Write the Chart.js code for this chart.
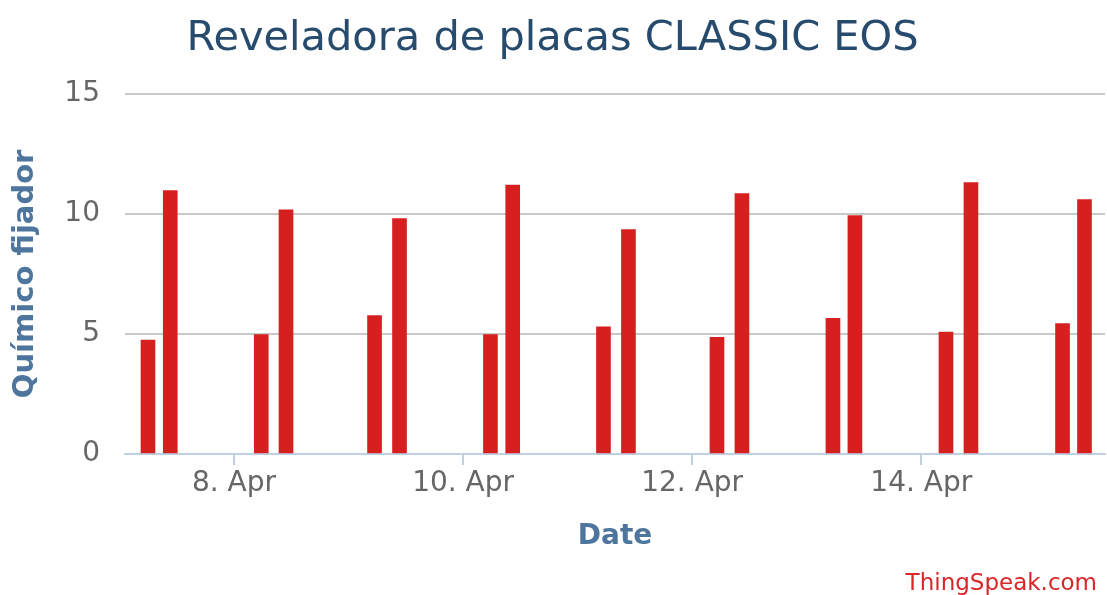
<!DOCTYPE html>
<html>
<head>
<meta charset="utf-8">
<script src="https://cdn.jsdelivr.net/npm/chart.js@4/dist/chart.umd.min.js"></script>
<style>
  html, body { margin: 0; padding: 0; background: #ffffff; }
  #wrap { width: 1107px; height: 595px; }
</style>
</head>
<body>
<div id="wrap"><canvas id="c" width="1107" height="595"></canvas></div>
<script>
// ---- data ----
const chartTitle = "Reveladora de placas CLASSIC EOS";
const yAxisTitle = "Químico fijador";
const xAxisTitle = "Date";
const creditText = "ThingSpeak.com";

const times = [
  "2024-04-07T05:59", "2024-04-07T10:39",
  "2024-04-08T05:43", "2024-04-08T10:54",
  "2024-04-09T05:27", "2024-04-09T10:41",
  "2024-04-10T05:44", "2024-04-10T10:24",
  "2024-04-11T05:25", "2024-04-11T10:39",
  "2024-04-12T05:12", "2024-04-12T10:26",
  "2024-04-13T05:30", "2024-04-13T10:06",
  "2024-04-14T05:11", "2024-04-14T10:25",
  "2024-04-15T05:36", "2024-04-15T10:12"
];
const values = [
  4.74, 10.97,
  4.97, 10.17,
  5.76, 9.80,
  4.97, 11.2,
  5.30, 9.35,
  4.86, 10.85,
  5.65, 9.93,
  5.08, 11.3,
  5.43, 10.6
];
const xRange = ["2024-04-07T01:10", "2024-04-15T14:30"];
const tickDates = ["2024-04-08T00:00", "2024-04-10T00:00", "2024-04-12T00:00", "2024-04-14T00:00"];
const tickLabels = ["8. Apr", "10. Apr", "12. Apr", "14. Apr"];
const yTicks = [0, 5, 10, 15];

// ---- helpers ----
const DAY = 86400000;
const ORIGIN = Date.UTC(2024, 3, 0); // so that value = day of April
const toDay = s => (Date.parse(s + ":00Z") - ORIGIN) / DAY;

const points = times.map((t, i) => ({ x: toDay(t), y: values[i] }));
const tickDays = tickDates.map(toDay);

const FONT = "'DejaVu Sans', 'Noto Sans', sans-serif";

const creditPlugin = {
  id: 'credit',
  afterDraw(chart) {
    const ctx = chart.ctx;
    ctx.save();
    ctx.font = "23px " + FONT;
    ctx.fillStyle = "#d92626";
    ctx.textAlign = "right";
    ctx.textBaseline = "alphabetic";
    ctx.fillText(creditText, 1097, 590);
    ctx.restore();
  }
};

new Chart(document.getElementById('c'), {
  type: 'bar',
  data: {
    datasets: [{
      data: points,
      backgroundColor: '#d62020',
      borderWidth: 0,
      barThickness: 14
    }]
  },
  options: {
    responsive: false,
    animation: false,
    layout: { padding: { left: 0, right: 2, top: 0, bottom: 0 } },
    plugins: {
      legend: { display: false },
      tooltip: { enabled: false },
      title: {
        display: true,
        text: chartTitle,
        color: '#274b6d',
        font: { family: FONT, size: 41.5, weight: 'normal' },
        padding: { top: 14, bottom: 30 }
      }
    },
    scales: {
      x: {
        type: 'linear',
        offset: false,
        min: toDay(xRange[0]),
        max: toDay(xRange[1]),
        afterFit: s => { s.height = 141; },
        afterBuildTicks: s => { s.ticks = tickDays.map(v => ({ value: v })); },
        grid: {
          display: true,
          offset: false,
          drawOnChartArea: false,
          drawTicks: true,
          tickLength: 11,
          color: '#c0d0e0',
          lineWidth: 2
        },
        border: { display: true, color: '#c0d0e0', width: 2 },
        ticks: {
          autoSkip: false,
          maxRotation: 0,
          padding: 2,
          color: '#666666',
          font: { family: FONT, size: 28 },
          callback: (v) => {
            const i = tickDays.findIndex(d => Math.abs(d - v) < 1e-6);
            return i >= 0 ? tickLabels[i] : '';
          }
        },
        title: {
          display: true,
          text: xAxisTitle,
          color: '#4d759e',
          font: { family: FONT, size: 28, weight: 'bold' },
          padding: { top: 0, bottom: 41 }
        }
      },
      y: {
        min: yTicks[0],
        max: yTicks[yTicks.length - 1],
        afterFit: s => { s.width = 125; },
        afterBuildTicks: s => { s.ticks = yTicks.map(v => ({ value: v })); },
        grid: {
          color: (ctx) => ctx.tick && ctx.tick.value === 0 ? 'rgba(0,0,0,0)' : '#c8c8c8',
          lineWidth: 2,
          drawTicks: false
        },
        border: { display: false },
        ticks: {
          padding: 25,
          color: '#666666',
          font: { family: FONT, size: 28 }
        },
        title: {
          display: true,
          text: yAxisTitle,
          color: '#4d759e',
          font: { family: FONT, size: 29, weight: 'bold' },
          padding: { top: 8, bottom: 0 }
        }
      }
    }
  },
  plugins: [creditPlugin]
});
</script>
</body>
</html>
